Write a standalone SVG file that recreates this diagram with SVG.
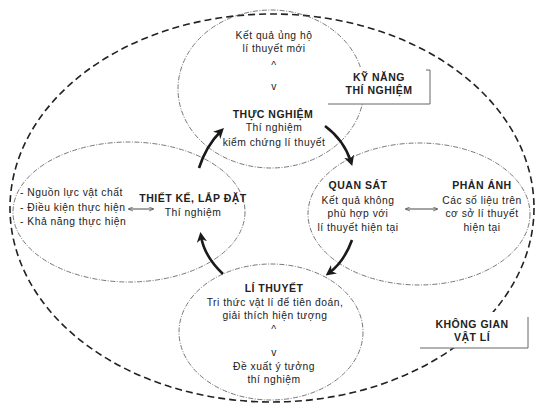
<svg xmlns="http://www.w3.org/2000/svg" width="536" height="403" viewBox="0 0 536 403">
<defs>
<style>
.ell{fill:none;stroke:#555;stroke-width:0.8;stroke-dasharray:5 1.5 1 1.5}
.outer{fill:none;stroke:#222;stroke-width:1.6;stroke-dasharray:7 4}
.t{font-family:"Liberation Sans",Arial,sans-serif;font-size:10.3px;letter-spacing:0.5px;fill:#222;text-anchor:middle}
.b{font-weight:bold;font-size:10.5px}
.l{text-anchor:start}
.box{fill:#fff;stroke:none}
.edge{fill:none;stroke:#666;stroke-width:1}
.arr{fill:none;stroke:#1a1a1a;stroke-width:2.6;marker-end:url(#ah)}
.dbl{fill:none;stroke:#333;stroke-width:0.9;marker-start:url(#sa);marker-end:url(#sa)}
</style>
<marker id="ah" viewBox="0 0 10 10" refX="6" refY="5" markerWidth="4" markerHeight="4" orient="auto-start-reverse" markerUnits="strokeWidth">
<path d="M0,0 L10,5 L0,10 L3,5 Z" fill="#1a1a1a"/>
</marker>
<marker id="sa" viewBox="0 0 10 10" refX="8" refY="5" markerWidth="5" markerHeight="5" orient="auto-start-reverse" markerUnits="userSpaceOnUse">
<path d="M0,1 L10,5 L0,9" fill="none" stroke="#333" stroke-width="1.2"/>
</marker>
</defs>
<rect width="536" height="403" fill="#fff"/>

<g id="outer-space">
<ellipse class="outer" cx="272" cy="208" rx="262" ry="194"/>
</g>

<g id="node-thuc-nghiem">
<ellipse class="ell" cx="271" cy="89" rx="93" ry="79"/>
<text class="t" x="274" y="39">Kết quả ủng hộ</text>
<text class="t" x="274" y="52">lí thuyết mới</text>
<text class="t" x="274" y="69" font-size="8">^</text>
<text class="t" x="274" y="90" font-size="8">v</text>
<text class="t b" x="273" y="118">THỰC NGHIỆM</text>
<text class="t" x="274" y="131">Thí nghiệm</text>
<text class="t" x="274" y="146">kiểm chứng lí thuyết</text>
</g>

<g id="node-thiet-ke">
<ellipse class="ell" cx="129" cy="212" rx="116" ry="70"/>
<text class="t l" x="20" y="196">- Nguồn lực vật chất</text>
<text class="t l" x="20" y="211">- Điều kiện thực hiện</text>
<text class="t l" x="20" y="225">- Khả năng thực hiện</text>
<text class="t b" x="193" y="202">THIẾT KẾ, LẮP ĐẶT</text>
<text class="t" x="193" y="216">Thí nghiệm</text>
</g>

<g id="node-quan-sat">
<ellipse class="ell" cx="419" cy="214" rx="111" ry="71"/>
<text class="t b" x="358" y="189">QUAN SÁT</text>
<text class="t" x="358" y="204">Kết quả không</text>
<text class="t" x="358" y="217">phù hợp với</text>
<text class="t" x="358" y="231">lí thuyết hiện tại</text>
<text class="t b" x="482" y="189">PHẢN ÁNH</text>
<text class="t" x="482" y="204">Các số liệu trên</text>
<text class="t" x="482" y="217">cơ sở lí thuyết</text>
<text class="t" x="482" y="231">hiện tại</text>
</g>

<g id="node-li-thuyet">
<ellipse class="ell" cx="271" cy="332" rx="92" ry="68"/>
<text class="t b" x="274" y="292">LÍ THUYẾT</text>
<text class="t" x="275" y="306">Tri thức vật lí để tiên đoán,</text>
<text class="t" x="275" y="319">giải thích hiện tượng</text>
<text class="t" x="274" y="333" font-size="8">^</text>
<text class="t" x="274" y="356" font-size="8">v</text>
<text class="t" x="274" y="370">Đề xuất ý tưởng</text>
<text class="t" x="274" y="383">thí nghiệm</text>
</g>

<g id="label-ky-nang">
<rect class="box" x="328" y="67" width="102" height="37"/>
<polyline class="edge" points="328,104 430,104 430,70 426,70"/>
<text class="t b" x="379" y="81">KỸ NĂNG</text>
<text class="t b" x="379" y="94">THÍ NGHIỆM</text>
</g>

<g id="label-khong-gian">
<rect class="box" x="420" y="312" width="108" height="36"/>
<polyline class="edge" points="420,348 528,348 528,317"/>
<text class="t b" x="472" y="328">KHÔNG GIAN</text>
<text class="t b" x="472" y="341">VẬT LÍ</text>
</g>

<g id="connectors">
<path class="arr" d="M199,168 Q206,146 221,131"/>
<path class="arr" d="M325,126 Q344,140 351,162"/>
<path class="arr" d="M352,240 Q344,262 329,273"/>
<path class="arr" d="M223,274 Q204,256 201,236"/>
<line class="dbl" x1="129" y1="209" x2="153" y2="209"/>
<line class="dbl" x1="406" y1="209" x2="437" y2="209"/>
</g>
</svg>
